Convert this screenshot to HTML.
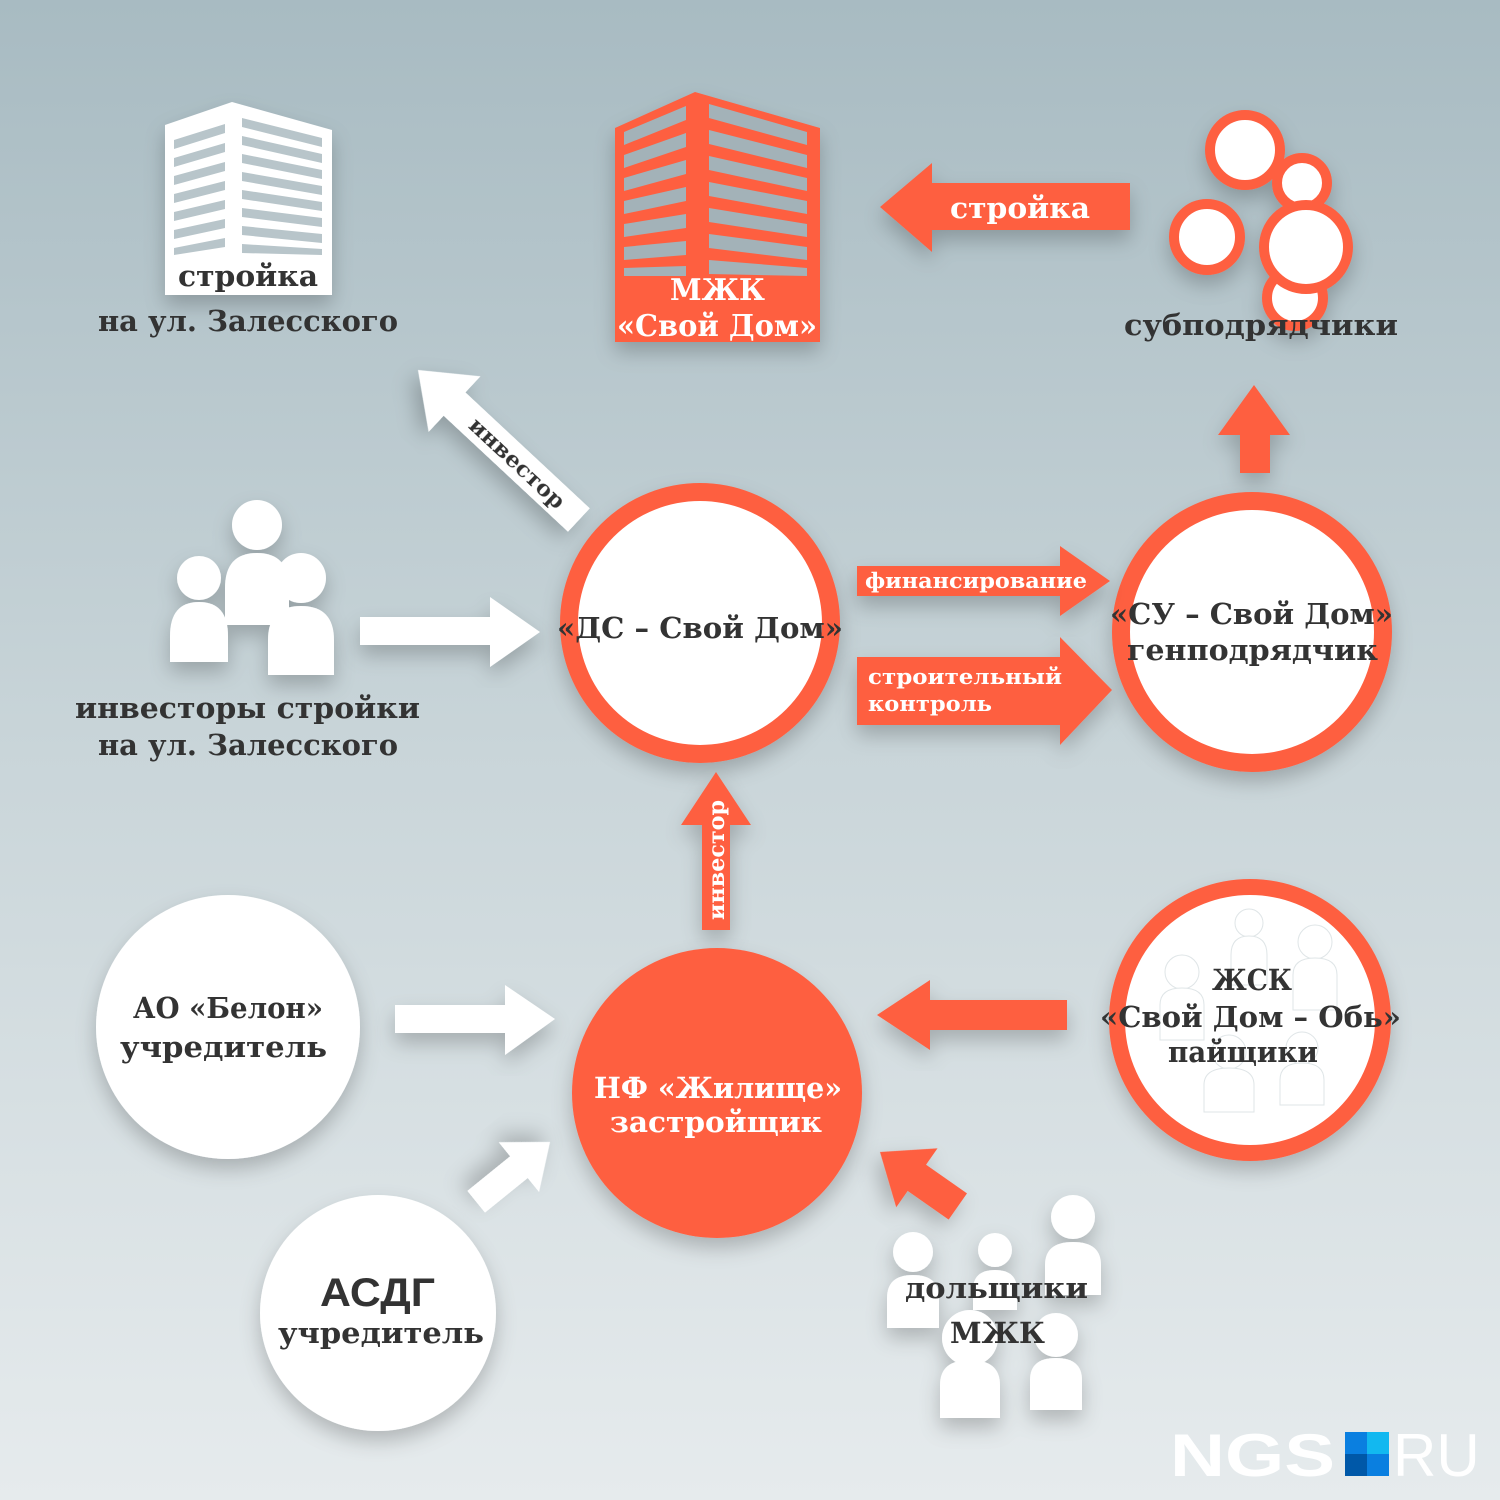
<!DOCTYPE html>
<html><head><meta charset="utf-8"><style>
html,body{margin:0;padding:0;width:1500px;height:1500px;overflow:hidden}
svg{display:block}
text{font-family:"DejaVu Serif","Liberation Serif",serif;font-weight:bold}
</style></head><body>
<svg width="1500" height="1500" viewBox="0 0 1500 1500" xmlns="http://www.w3.org/2000/svg">
<defs>
<linearGradient id="bg" x1="0" y1="0" x2="0" y2="1">
<stop offset="0" stop-color="#a8bbc2"/><stop offset="0.5" stop-color="#c9d5d9"/><stop offset="1" stop-color="#e6ebed"/>
</linearGradient>
<filter id="sh" x="-30%" y="-30%" width="160%" height="160%"><feDropShadow dx="0" dy="10" stdDeviation="10" flood-color="#000" flood-opacity="0.22"/></filter>
</defs>
<rect width="1500" height="1500" fill="url(#bg)"/>

<!-- white building -->
<g filter="url(#sh)">
<polygon points="165,125 232,102 332,130 332,295 165,295" fill="#fff"/>
</g>
<g fill="#b8c5ca">
<path d="M174,140 L225,124 L225,133 L174,149Z M174,158 L225,143 L225,152 L174,167Z M174,176 L225,162 L225,171 L174,185Z M174,194 L225,181 L225,190 L174,203Z M174,212 L225,200 L225,209 L174,221Z M174,230 L225,219 L225,228 L174,239Z M174,248 L225,238 L225,247 L174,255Z"/>
<path d="M242,118 L322,138 L322,147 L242,127Z M242,136 L322,154 L322,163 L242,145Z M242,154 L322,170 L322,179 L242,163Z M242,172 L322,186 L322,195 L242,181Z M242,190 L322,202 L322,211 L242,199Z M242,208 L322,218 L322,227 L242,217Z M242,226 L322,234 L322,243 L242,235Z M242,244 L322,249 L322,255 L242,253Z"/>
</g>
<text x="178" y="286" font-size="29" fill="#333" textLength="140" lengthAdjust="spacingAndGlyphs">стройка</text>
<text x="98" y="331" font-size="29" fill="#333" textLength="300" lengthAdjust="spacingAndGlyphs">на ул. Залесского</text>

<!-- orange building -->
<g filter="url(#sh)">
<polygon points="615,128 695,92 820,128 820,342 615,342" fill="#fe5f41"/>
</g>
<g fill="#a3b2b8">
<path d="M624,132 L686,106 L686,120 L624,145Z M624,155 L686,133 L686,147 L624,168Z M624,178 L686,160 L686,174 L624,191Z M624,201 L686,187 L686,201 L624,214Z M624,224 L686,214 L686,228 L624,237Z M624,247 L686,241 L686,255 L624,260Z M624,268 L686,266 L686,276 L624,276Z"/>
<path d="M709,104 L807,132 L807,145 L709,118Z M709,130 L807,155 L807,168 L709,144Z M709,156 L807,178 L807,191 L709,170Z M709,182 L807,201 L807,214 L709,196Z M709,208 L807,224 L807,237 L709,222Z M709,234 L807,247 L807,260 L709,248Z M709,260 L807,268 L807,276 L709,274Z"/>
</g>
<text x="670" y="300" font-size="30" fill="#fff" textLength="95" lengthAdjust="spacingAndGlyphs">МЖК</text>
<text x="617" y="336" font-size="30" fill="#fff" textLength="200" lengthAdjust="spacingAndGlyphs">«Свой Дом»</text>

<!-- стройка arrow -->
<polygon points="880,207 932,163 932,183 1130,183 1130,230 932,230 932,252" fill="#fe5f41" filter="url(#sh)"/>
<text x="950" y="218" font-size="29" fill="#fff" textLength="140" lengthAdjust="spacingAndGlyphs">стройка</text>

<!-- subcontractors -->
<g fill="#fff" stroke="#fe5f41" stroke-width="10" filter="url(#sh)">
<circle cx="1295" cy="298" r="28"/>
<circle cx="1245" cy="150" r="35"/>
<circle cx="1302" cy="183" r="25"/>
<circle cx="1207" cy="237" r="33"/>
<circle cx="1306" cy="247" r="42"/>
</g>
<text x="1124" y="335" font-size="29" fill="#333" textLength="274" lengthAdjust="spacingAndGlyphs">субподрядчики</text>
<polygon points="1254,385 1290,435 1270,435 1270,473 1240,473 1240,435 1218,435" fill="#fe5f41" filter="url(#sh)"/>

<!-- ДС circle -->
<circle cx="700" cy="623" r="131" fill="#fff" stroke="#fe5f41" stroke-width="18" filter="url(#sh)"/>
<text x="557" y="638" font-size="29" fill="#333" textLength="286" lengthAdjust="spacingAndGlyphs">«ДС – Свой Дом»</text>

<!-- СУ circle -->
<circle cx="1252" cy="632" r="131" fill="#fff" stroke="#fe5f41" stroke-width="18" filter="url(#sh)"/>
<text x="1110" y="624" font-size="29" fill="#333" textLength="283" lengthAdjust="spacingAndGlyphs">«СУ – Свой Дом»</text>
<text x="1127" y="660" font-size="29" fill="#333" textLength="251" lengthAdjust="spacingAndGlyphs">генподрядчик</text>

<!-- financing arrows -->
<polygon points="857,566 1060,566 1060,546 1110,581 1060,616 1060,596 857,596" fill="#fe5f41" filter="url(#sh)"/>
<text x="865" y="588" font-size="21" fill="#fff" textLength="222" lengthAdjust="spacingAndGlyphs">финансирование</text>
<polygon points="857,657 1060,657 1060,637 1112,690 1060,745 1060,725 857,725" fill="#fe5f41" filter="url(#sh)"/>
<text x="868" y="684" font-size="21" fill="#fff" textLength="194" lengthAdjust="spacingAndGlyphs">строительный</text>
<text x="868" y="711" font-size="21" fill="#fff" textLength="124" lengthAdjust="spacingAndGlyphs">контроль</text>

<!-- investor diagonal arrow -->
<g transform="translate(418,370) rotate(43)" filter="url(#sh)">
<polygon points="0,0 50,-38 50,-16 220,-16 220,16 50,16 50,38" fill="#fff"/>
<text x="75" y="8" font-size="22" fill="#333" textLength="122" lengthAdjust="spacingAndGlyphs">инвестор</text>
</g>

<!-- left investors -->
<g fill="#fff" filter="url(#sh)">
<circle cx="257" cy="525" r="25"/><path d="M225,625 L225,588 Q225,553 257,553 Q289,553 289,588 L289,625Z"/>
<circle cx="199" cy="578" r="22"/><path d="M170,662 L170,636 Q170,602 199,602 Q228,602 228,636 L228,662Z"/>
<circle cx="301" cy="578" r="25"/><path d="M268,675 L268,640 Q268,606 301,606 Q334,606 334,640 L334,675Z"/>
</g>
<text x="75" y="718" font-size="29" fill="#333" textLength="345" lengthAdjust="spacingAndGlyphs">инвесторы стройки</text>
<text x="98" y="755" font-size="29" fill="#333" textLength="300" lengthAdjust="spacingAndGlyphs">на ул. Залесского</text>
<polygon points="360,617 490,617 490,597 540,632 490,667 490,645 360,645" fill="#fff" filter="url(#sh)"/>

<!-- investor up arrow -->
<polygon points="716,772 751,825 730,825 730,930 702,930 702,825 681,825" fill="#fe5f41" filter="url(#sh)"/>
<text transform="translate(724,920) rotate(-90)" font-size="22" fill="#fff" textLength="120" lengthAdjust="spacingAndGlyphs">инвестор</text>

<!-- NF circle -->
<circle cx="717" cy="1093" r="145" fill="#fe5f41" filter="url(#sh)"/>
<text x="594" y="1098" font-size="29" fill="#fff" textLength="248" lengthAdjust="spacingAndGlyphs">НФ «Жилище»</text>
<text x="610" y="1132" font-size="29" fill="#fff" textLength="212" lengthAdjust="spacingAndGlyphs">застройщик</text>

<!-- Belon -->
<circle cx="228" cy="1027" r="132" fill="#fff" filter="url(#sh)"/>
<text x="133" y="1018" font-size="29" fill="#333" textLength="190" lengthAdjust="spacingAndGlyphs">АО «Белон»</text>
<text x="120" y="1057" font-size="29" fill="#333" textLength="207" lengthAdjust="spacingAndGlyphs">учредитель</text>
<polygon points="395,1005 505,1005 505,985 555,1019 505,1055 505,1033 395,1033" fill="#fff" filter="url(#sh)"/>

<!-- АСДГ -->
<circle cx="378" cy="1313" r="118" fill="#fff" filter="url(#sh)"/>
<text x="320" y="1306" font-size="40" fill="#333" style="font-family:'Liberation Sans',sans-serif" textLength="115" lengthAdjust="spacingAndGlyphs">АСДГ</text>
<text x="278" y="1343" font-size="29" fill="#333" textLength="206" lengthAdjust="spacingAndGlyphs">учредитель</text>
<g transform="translate(550,1142) rotate(141)" filter="url(#sh)">
<polygon points="0,0 40,-32 40,-14 95,-14 95,14 40,14 40,32" fill="#fff"/>
</g>

<!-- ЖСК -->
<circle cx="1250" cy="1020" r="133" fill="#fff" stroke="#fe5f41" stroke-width="16" filter="url(#sh)"/>
<g fill="#fff" stroke="#dfe5e7" stroke-width="1">
<circle cx="1249" cy="923" r="14"/><path d="M1231,985 L1231,955 Q1231,936 1249,936 Q1267,936 1267,955 L1267,985Z"/>
<circle cx="1315" cy="942" r="17"/><path d="M1293,1010 L1293,975 Q1293,958 1315,958 Q1337,958 1337,975 L1337,1010Z"/>
<circle cx="1182" cy="972" r="17"/><path d="M1160,1040 L1160,1005 Q1160,988 1182,988 Q1204,988 1204,1005 L1204,1040Z"/>
<circle cx="1229" cy="1052" r="17"/><path d="M1204,1112 L1204,1085 Q1204,1068 1229,1068 Q1254,1068 1254,1085 L1254,1112Z"/>
<circle cx="1302" cy="1048" r="16"/><path d="M1280,1105 L1280,1080 Q1280,1063 1302,1063 Q1324,1063 1324,1080 L1324,1105Z"/>
</g>
<text x="1212" y="990" font-size="29" fill="#333" textLength="80" lengthAdjust="spacingAndGlyphs">ЖСК</text>
<text x="1100" y="1027" font-size="29" fill="#333" textLength="301" lengthAdjust="spacingAndGlyphs">«Свой Дом – Обь»</text>
<text x="1168" y="1062" font-size="29" fill="#333" textLength="150" lengthAdjust="spacingAndGlyphs">пайщики</text>
<polygon points="877,1015 930,980 930,1000 1067,1000 1067,1030 930,1030 930,1050" fill="#fe5f41" filter="url(#sh)"/>
<g transform="translate(880,1152) rotate(35)" filter="url(#sh)">
<polygon points="0,0 45,-36 45,-16 95,-16 95,16 45,16 45,36" fill="#fe5f41"/>
</g>

<!-- дольщики -->
<g fill="#fff" filter="url(#sh)">
<circle cx="913" cy="1252" r="20"/><path d="M887,1328 L887,1298 Q887,1275 913,1275 Q939,1275 939,1298 L939,1328Z"/>
<circle cx="995" cy="1250" r="17"/><path d="M973,1310 L973,1290 Q973,1270 995,1270 Q1017,1270 1017,1290 L1017,1310Z"/>
<circle cx="1073" cy="1217" r="22"/><path d="M1045,1295 L1045,1265 Q1045,1242 1073,1242 Q1101,1242 1101,1265 L1101,1295Z"/>
<circle cx="970" cy="1338" r="28"/><path d="M940,1418 L940,1385 Q940,1360 970,1360 Q1000,1360 1000,1385 L1000,1418Z"/>
<circle cx="1056" cy="1335" r="22"/><path d="M1030,1410 L1030,1380 Q1030,1358 1056,1358 Q1082,1358 1082,1380 L1082,1410Z"/>
</g>
<text x="905" y="1298" font-size="29" fill="#333" textLength="183" lengthAdjust="spacingAndGlyphs">дольщики</text>
<text x="950" y="1343" font-size="29" fill="#333" textLength="95" lengthAdjust="spacingAndGlyphs">МЖК</text>

<!-- NGS logo -->
<text x="1170" y="1476" font-size="60" fill="#fff" style="font-family:'Liberation Sans',sans-serif;font-weight:bold" textLength="165" lengthAdjust="spacingAndGlyphs">NGS</text>
<rect x="1345" y="1432" width="22" height="22" fill="#0a7fe0"/>
<rect x="1367" y="1432" width="22" height="22" fill="#12b8f0"/>
<rect x="1345" y="1454" width="22" height="22" fill="#0058a8"/>
<rect x="1367" y="1454" width="22" height="22" fill="#0a7fe0"/>
<text x="1393" y="1476" font-size="60" fill="#fff" style="font-family:'Liberation Sans',sans-serif;font-weight:normal">RU</text>
</svg>
</body></html>
